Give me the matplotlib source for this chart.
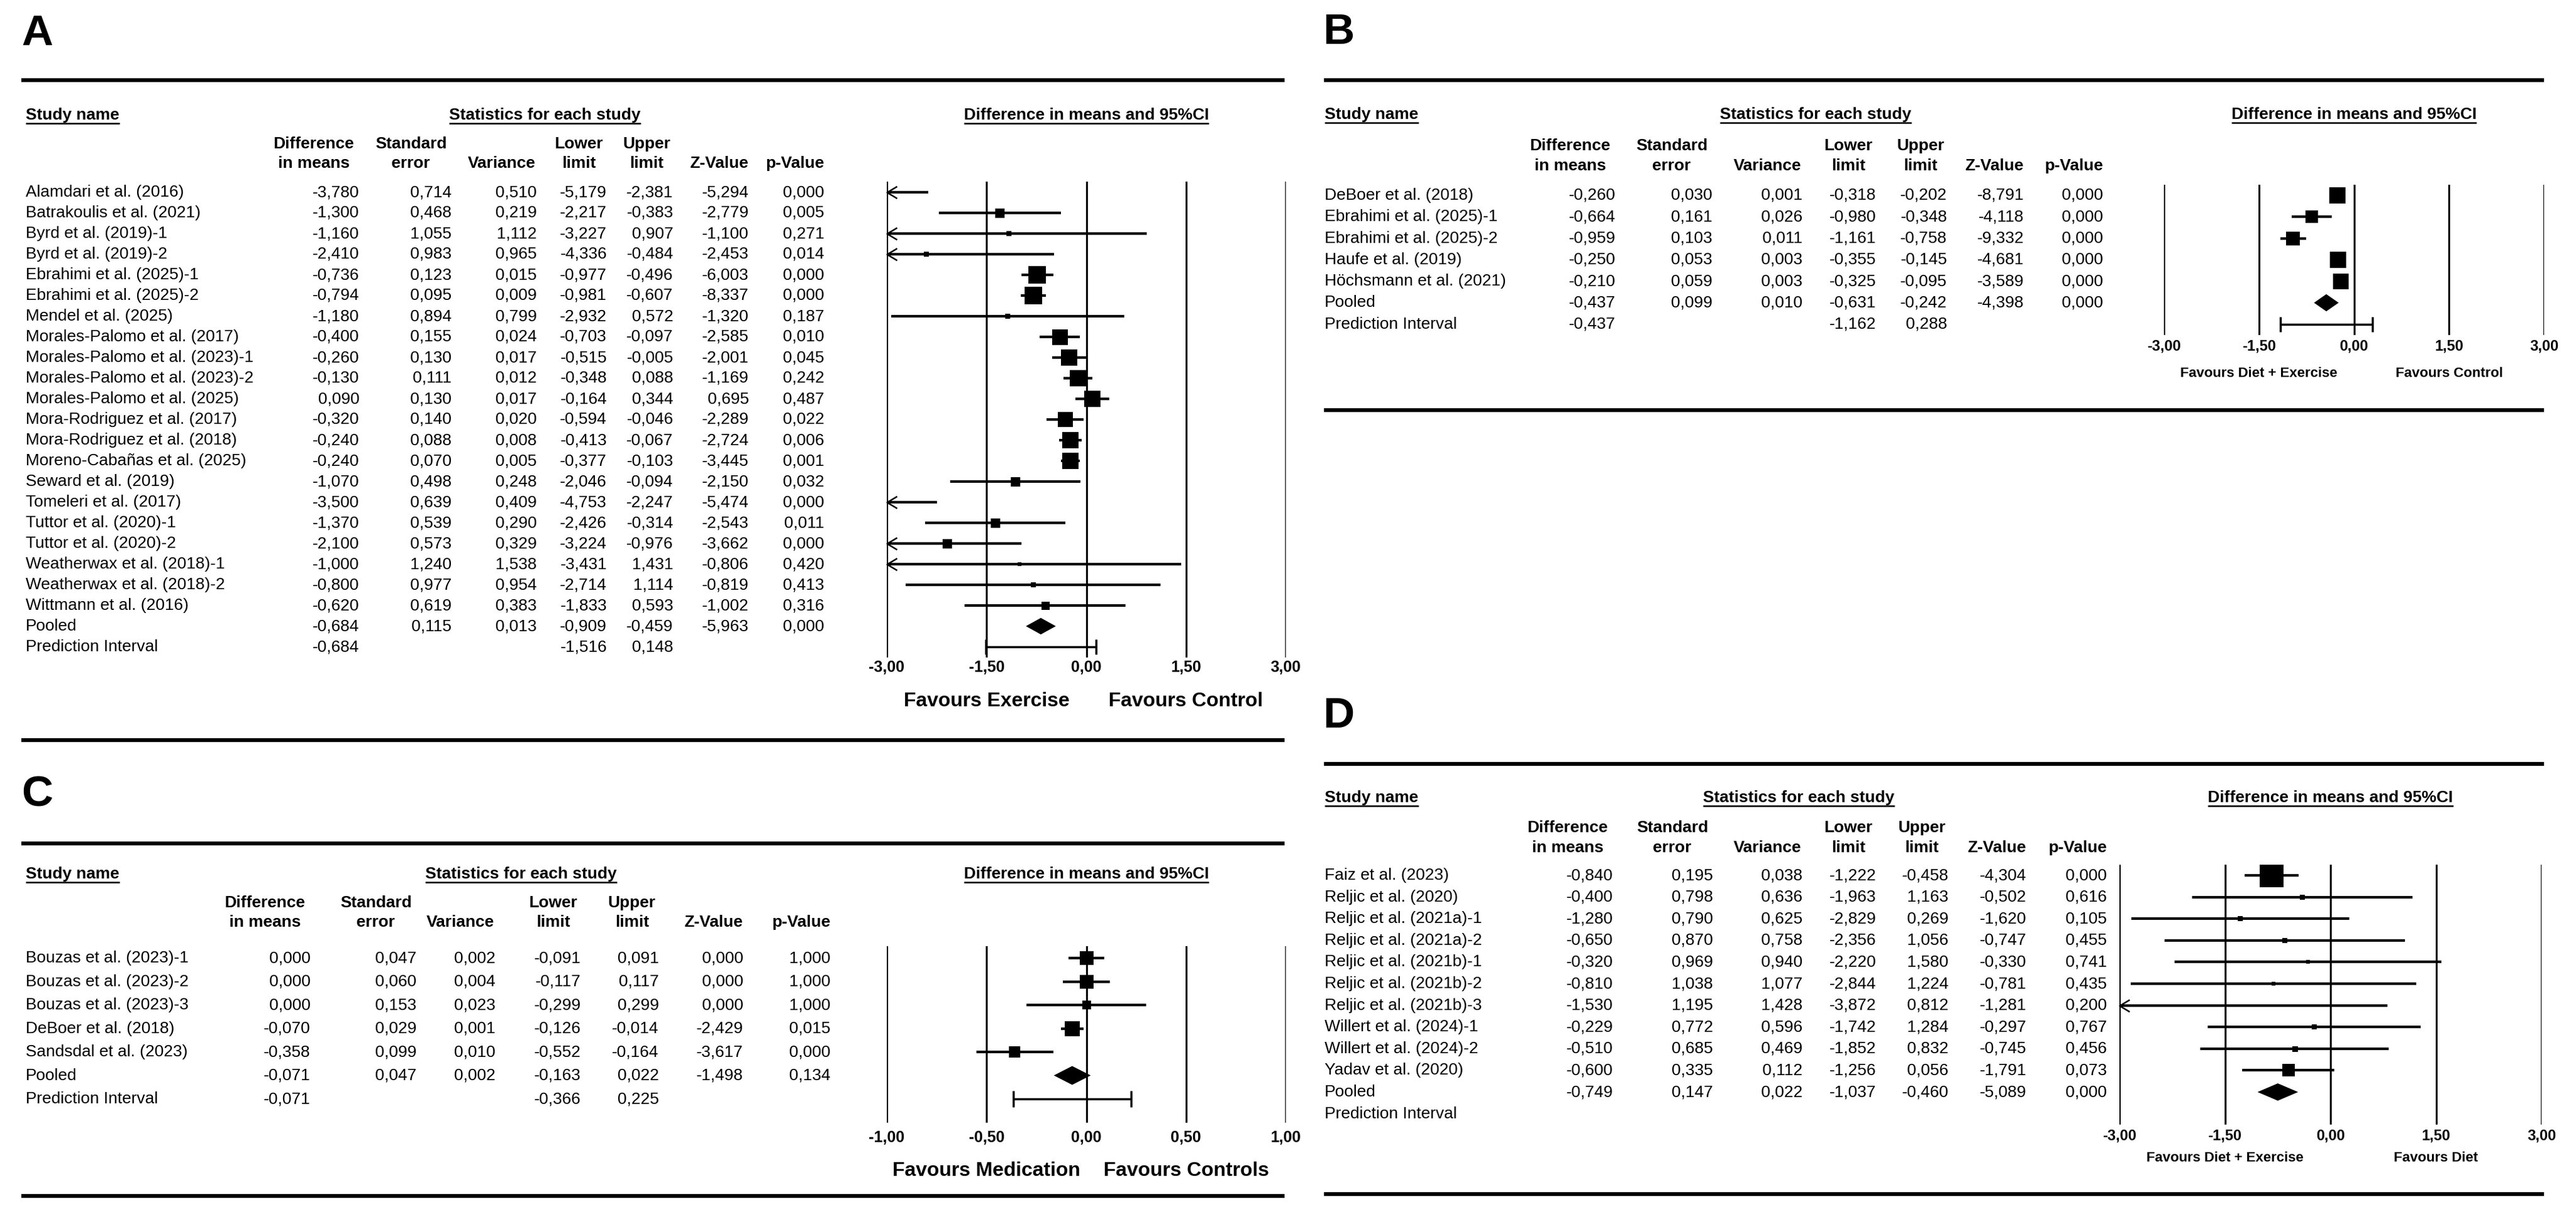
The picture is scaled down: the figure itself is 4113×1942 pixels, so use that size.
import numpy as np
import matplotlib
matplotlib.use("Agg")
import matplotlib.pyplot as plt
import matplotlib.transforms as mtransforms
from matplotlib.lines import Line2D
from matplotlib.path import Path

W, H = 4113, 1942
DPI = 100
plt.rcParams['font.family'] = ['Liberation Sans Narrow', 'Liberation Sans', 'DejaVu Sans']

# ---------------- A: exercise vs control ----------------
a_names = ["Alamdari et al. (2016)", "Batrakoulis et al. (2021)", "Byrd et al. (2019)-1",
           "Byrd et al. (2019)-2", "Ebrahimi et al. (2025)-1", "Ebrahimi et al. (2025)-2",
           "Mendel et al. (2025)", "Morales-Palomo et al. (2017)", "Morales-Palomo et al. (2023)-1",
           "Morales-Palomo et al. (2023)-2", "Morales-Palomo et al. (2025)",
           "Mora-Rodriguez et al. (2017)", "Mora-Rodriguez et al. (2018)",
           "Moreno-Cabañas et al. (2025)", "Seward et al. (2019)", "Tomeleri et al. (2017)",
           "Tuttor et al. (2020)-1", "Tuttor et al. (2020)-2", "Weatherwax et al. (2018)-1",
           "Weatherwax et al. (2018)-2", "Wittmann et al. (2016)"]
a_diff = [-3.780, -1.300, -1.160, -2.410, -0.736, -0.794, -1.180, -0.400, -0.260, -0.130, 0.090,
          -0.320, -0.240, -0.240, -1.070, -3.500, -1.370, -2.100, -1.000, -0.800, -0.620]
a_se = [0.714, 0.468, 1.055, 0.983, 0.123, 0.095, 0.894, 0.155, 0.130, 0.111, 0.130,
        0.140, 0.088, 0.070, 0.498, 0.639, 0.539, 0.573, 1.240, 0.977, 0.619]
a_var = [0.510, 0.219, 1.112, 0.965, 0.015, 0.009, 0.799, 0.024, 0.017, 0.012, 0.017,
         0.020, 0.008, 0.005, 0.248, 0.409, 0.290, 0.329, 1.538, 0.954, 0.383]
a_lower = [-5.179, -2.217, -3.227, -4.336, -0.977, -0.981, -2.932, -0.703, -0.515, -0.348, -0.164,
           -0.594, -0.413, -0.377, -2.046, -4.753, -2.426, -3.224, -3.431, -2.714, -1.833]
a_upper = [-2.381, -0.383, 0.907, -0.484, -0.496, -0.607, 0.572, -0.097, -0.005, 0.088, 0.344,
           -0.046, -0.067, -0.103, -0.094, -2.247, -0.314, -0.976, 1.431, 1.114, 0.593]
a_z = [-5.294, -2.779, -1.100, -2.453, -6.003, -8.337, -1.320, -2.585, -2.001, -1.169, 0.695,
       -2.289, -2.724, -3.445, -2.150, -5.474, -2.543, -3.662, -0.806, -0.819, -1.002]
a_p = [0.000, 0.005, 0.271, 0.014, 0.000, 0.000, 0.187, 0.010, 0.045, 0.242, 0.487,
       0.022, 0.006, 0.001, 0.032, 0.000, 0.011, 0.000, 0.420, 0.413, 0.316]
a_weight = [14, 15, 8, 8, 28, 28, 8, 25, 26, 27, 26, 24, 26, 26, 15, 14, 15, 15, 6, 8, 13]
a_pooled = [-0.684, 0.115, 0.013, -0.909, -0.459, -5.963, 0.000]
a_pred = [-0.684, -1.516, 0.148]

# ---------------- B: diet + exercise vs control ----------------
b_names = ["DeBoer et al. (2018)", "Ebrahimi et al. (2025)-1", "Ebrahimi et al. (2025)-2",
           "Haufe et al. (2019)", "Höchsmann et al. (2021)"]
b_diff = [-0.260, -0.664, -0.959, -0.250, -0.210]
b_se = [0.030, 0.161, 0.103, 0.053, 0.059]
b_var = [0.001, 0.026, 0.011, 0.003, 0.003]
b_lower = [-0.318, -0.980, -1.161, -0.355, -0.325]
b_upper = [-0.202, -0.348, -0.758, -0.145, -0.095]
b_z = [-8.791, -4.118, -9.332, -4.681, -3.589]
b_p = [0.000, 0.000, 0.000, 0.000, 0.000]
b_weight = [27, 20, 22, 26, 25]
b_pooled = [-0.437, 0.099, 0.010, -0.631, -0.242, -4.398, 0.000]
b_pred = [-0.437, -1.162, 0.288]

# ---------------- C: medication vs controls ----------------
c_names = ["Bouzas et al. (2023)-1", "Bouzas et al. (2023)-2", "Bouzas et al. (2023)-3",
           "DeBoer et al. (2018)", "Sandsdal et al. (2023)"]
c_diff = [0.000, 0.000, 0.000, -0.070, -0.358]
c_se = [0.047, 0.060, 0.153, 0.029, 0.099]
c_var = [0.002, 0.004, 0.023, 0.001, 0.010]
c_lower = [-0.091, -0.117, -0.299, -0.126, -0.552]
c_upper = [0.091, 0.117, 0.299, -0.014, -0.164]
c_z = [0.000, 0.000, 0.000, -2.429, -3.617]
c_p = [1.000, 1.000, 1.000, 0.015, 0.000]
c_weight = [22, 22, 14, 24, 18]
c_pooled = [-0.071, 0.047, 0.002, -0.163, 0.022, -1.498, 0.134]
c_pred = [-0.071, -0.366, 0.225]

# ---------------- D: diet + exercise vs diet ----------------
d_names = ["Faiz et al. (2023)", "Reljic et al. (2020)", "Reljic et al. (2021a)-1",
           "Reljic et al. (2021a)-2", "Reljic et al. (2021b)-1", "Reljic et al. (2021b)-2",
           "Reljic et al. (2021b)-3", "Willert et al. (2024)-1", "Willert et al. (2024)-2",
           "Yadav et al. (2020)"]
d_diff = [-0.840, -0.400, -1.280, -0.650, -0.320, -0.810, -1.530, -0.229, -0.510, -0.600]
d_se = [0.195, 0.798, 0.790, 0.870, 0.969, 1.038, 1.195, 0.772, 0.685, 0.335]
d_var = [0.038, 0.636, 0.625, 0.758, 0.940, 1.077, 1.428, 0.596, 0.469, 0.112]
d_lower = [-1.222, -1.963, -2.829, -2.356, -2.220, -2.844, -3.872, -1.742, -1.852, -1.256]
d_upper = [-0.458, 1.163, 0.269, 1.056, 1.580, 1.224, 0.812, 1.284, 0.832, 0.056]
d_z = [-4.304, -0.502, -1.620, -0.747, -0.330, -0.781, -1.281, -0.297, -0.745, -1.791]
d_p = [0.000, 0.616, 0.105, 0.455, 0.741, 0.435, 0.200, 0.767, 0.456, 0.073]
d_weight = [38, 8, 8, 8, 6, 6, 5, 8, 9, 20]
d_pooled = [-0.749, 0.147, 0.022, -1.037, -0.460, -5.089, 0.000]
d_pred = None

hdr1 = ["Difference", "Standard", "", "Lower", "Upper", "", ""]
hdr2 = ["in means", "error", "Variance", "limit", "limit", "Z-Value", "p-Value"]
hdr_off = [-73, -65, -56, -45, -43, -48, -47]

panels = [
    dict(letter="A", names=a_names, cols=[a_diff, a_se, a_var, a_lower, a_upper, a_z, a_p],
         weight=a_weight, pooled=a_pooled, pred=a_pred, xlim=(-3, 3), ticks=[-3, -1.5, 0, 1.5, 3],
         favours=("Favours Exercise", "Favours Control"), fav_at=(-1.5, 1.5), fav_size=23,
         letter_xy=(34, 72), line_x=(34, 2051), line_y=(128, 1182), name_x=41, study_y=191,
         stats_x=870, hdr_y=(237, 268), cols_r=[574, 721, 857, 969, 1075, 1196, 1316],
         row0=307, dy=33.0, extra=0.0, plot_x=(1416, 2053), pad=3, fav_y=1128, tick_size=18),
    dict(letter="B", names=b_names, cols=[b_diff, b_se, b_var, b_lower, b_upper, b_z, b_p],
         weight=b_weight, pooled=b_pooled, pred=b_pred, xlim=(-3, 3), ticks=[-3, -1.5, 0, 1.5, 3],
         favours=("Favours Diet + Exercise", "Favours Control"), fav_at=(-1.5, 1.5), fav_size=16,
         letter_xy=(2112, 70), line_x=(2114, 4062), line_y=(128, 655), name_x=2115, study_y=190,
         stats_x=2899, hdr_y=(240, 272), cols_r=[2580, 2734, 2878, 2996, 3109, 3232, 3358],
         row0=312, dy=34.3, extra=0.0, plot_x=(3455, 4062), pad=5, fav_y=602, tick_size=17),
    dict(letter="C", names=c_names, cols=[c_diff, c_se, c_var, c_lower, c_upper, c_z, c_p],
         weight=c_weight, pooled=c_pooled, pred=c_pred, xlim=(-1, 1), ticks=[-1, -0.5, 0, 0.5, 1],
         favours=("Favours Medication", "Favours Controls"), fav_at=(-0.5, 0.5), fav_size=23,
         letter_xy=(34, 1287), line_x=(34, 2051), line_y=(1347, 1910), name_x=41, study_y=1403,
         stats_x=832, hdr_y=(1449, 1480), cols_r=[496, 665, 791, 928, 1052, 1187, 1326],
         row0=1530, dy=37.5, extra=0.5, plot_x=(1416, 2053), pad=9, fav_y=1878, tick_size=18),
    dict(letter="D", names=d_names, cols=[d_diff, d_se, d_var, d_lower, d_upper, d_z, d_p],
         weight=d_weight, pooled=d_pooled, pred=d_pred, xlim=(-3, 3), ticks=[-3, -1.5, 0, 1.5, 3],
         favours=("Favours Diet + Exercise", "Favours Diet"), fav_at=(-1.5, 1.5), fav_size=16,
         letter_xy=(2112, 1162), line_x=(2114, 4062), line_y=(1220, 1907), name_x=2115, study_y=1281,
         stats_x=2872, hdr_y=(1329, 1361), cols_r=[2576, 2735, 2878, 2996, 3111, 3236, 3364],
         row0=1398, dy=34.6, extra=0.0, plot_x=(3384, 4058), pad=5, fav_y=1855, tick_size=17),
]


def fmt(v):
    return f"{v:.3f}".replace(".", ",")


fig = plt.figure(figsize=(W / DPI, H / DPI), dpi=DPI)
fig.patch.set_facecolor("white")
px = mtransforms.Affine2D().scale(1, -1).translate(0, H)
renderer = fig.canvas.get_renderer()


def hline(x0, x1, y, lw):
    fig.add_artist(Line2D([x0, x1], [y, y], transform=px, color="black", lw=lw,
                          solid_capstyle="butt"))


def underlined(x, y, s, ha="left", size=19):
    t = fig.text(x, y, s, transform=px, ha=ha, va="baseline", fontsize=size, fontweight="bold")
    bb = t.get_window_extent(renderer)
    hline(bb.x0, bb.x1, y + 6, 1.8)


chevron = Path([(1.0, 0.6), (0, 0), (1.0, -0.6)], [Path.MOVETO, Path.LINETO, Path.LINETO])

for p in panels:
    n = len(p["names"])
    nrows = n + 2
    r0, dy = p["row0"], p["dy"]
    top = r0 - dy / 2
    bot = r0 + (nrows - 0.5 + p["extra"]) * dy
    x0, x1 = p["plot_x"]

    # panel letter and rules
    fig.text(p["letter_xy"][0], p["letter_xy"][1], p["letter"], transform=px, ha="left",
             va="baseline", fontsize=50, fontweight="bold")
    hline(p["line_x"][0], p["line_x"][1], p["line_y"][0], 4.5)
    hline(p["line_x"][0], p["line_x"][1], p["line_y"][1], 4.5)

    # headers
    underlined(p["name_x"], p["study_y"], "Study name")
    underlined(p["stats_x"], p["study_y"], "Statistics for each study", ha="center")
    for xr, off, h1, h2 in zip(p["cols_r"], hdr_off, hdr1, hdr2):
        if h1:
            fig.text(xr + off, p["hdr_y"][0], h1, transform=px, ha="center", va="baseline",
                     fontsize=19, fontweight="bold")
        fig.text(xr + off, p["hdr_y"][1], h2, transform=px, ha="center", va="baseline",
                 fontsize=19, fontweight="bold")

    # forest plot axes
    ax = fig.add_axes([x0 / W, 1 - bot / H, (x1 - x0) / W, (bot - top) / H])
    ax.set_xlim(*p["xlim"])
    ax.set_ylim(nrows - 0.5 + p["extra"], -0.5)
    for s in ax.spines.values():
        s.set_visible(False)
    ax.patch.set_visible(False)
    ax.set_yticks([])
    ax.set_xticks(p["ticks"])
    ax.set_xticklabels([f"{t:.2f}".replace(".", ",") for t in p["ticks"]], fontweight="bold")
    ax.tick_params(axis="x", length=0, pad=p["pad"], labelsize=p["tick_size"])
    for t in p["ticks"]:
        ax.axvline(t, color="black", lw=2.2)

    diff = np.array(p["cols"][0])
    lower = np.array(p["cols"][3])
    upper = np.array(p["cols"][4])
    rows = np.arange(n)
    ax.hlines(rows, lower, upper, color="black", lw=3)
    out = lower < p["xlim"][0]
    ax.plot(np.full(out.sum(), p["xlim"][0]), rows[out], ls="none", marker=chevron, ms=23,
            mfc="none", mec="black", mew=1.8, clip_on=False)
    for r, d, w in zip(rows, diff, p["weight"]):
        ax.plot(d, r, marker="s", ms=w * 0.72, color="black", mew=0)

    pool = p["pooled"]
    ax.fill([pool[3], pool[0], pool[4], pool[0]], [n, n - 0.4, n, n + 0.4], color="black", lw=0)
    if p["pred"] is not None:
        pr = p["pred"]
        ax.hlines(n + 1, pr[1], pr[2], color="black", lw=2.5)
        ax.vlines([pr[1], pr[2]], n + 1 - 0.35, n + 1 + 0.35, color="black", lw=2.5)

    # title over the forest plot and favours labels
    xc = ax.transData.transform((0, 0))[0]
    underlined(xc, p["study_y"], "Difference in means and 95%CI", ha="center")
    bt2 = mtransforms.blended_transform_factory(ax.transData, px)
    for lab, at in zip(p["favours"], p["fav_at"]):
        fig.text(at, p["fav_y"], lab, transform=bt2, ha="center", va="baseline",
                 fontsize=p["fav_size"], fontweight="bold")

    # table rows
    bt = mtransforms.blended_transform_factory(px, ax.transData)
    kw = dict(transform=bt, va="center", fontsize=19)
    for r in range(n):
        fig.text(p["name_x"], r, p["names"][r], ha="left", **kw)
        for xr, col in zip(p["cols_r"], p["cols"]):
            fig.text(xr, r, fmt(col[r]), ha="right", **kw)
    fig.text(p["name_x"], n, "Pooled", ha="left", **kw)
    for xr, v in zip(p["cols_r"], pool):
        fig.text(xr, n, fmt(v), ha="right", **kw)
    fig.text(p["name_x"], n + 1, "Prediction Interval", ha="left", **kw)
    if p["pred"] is not None:
        pr = p["pred"]
        fig.text(p["cols_r"][0], n + 1, fmt(pr[0]), ha="right", **kw)
        fig.text(p["cols_r"][3], n + 1, fmt(pr[1]), ha="right", **kw)
        fig.text(p["cols_r"][4], n + 1, fmt(pr[2]), ha="right", **kw)

fig.savefig("out.png", dpi=DPI, facecolor="white")
